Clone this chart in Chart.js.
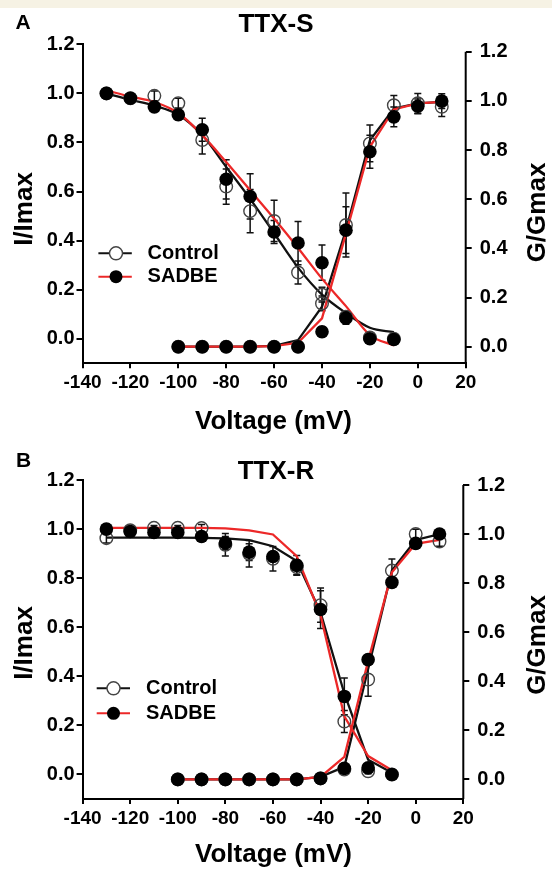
<!DOCTYPE html>
<html>
<head>
<meta charset="utf-8">
<script src="https://cdn.jsdelivr.net/npm/chart.js@4.4.1/dist/chart.umd.min.js"></script>
<style>
  html, body { margin: 0; padding: 0; background: #fff; }
  #band { position: absolute; left: 0; top: 0; width: 552px; height: 8px; background: #f6f2e4; }
  canvas { position: absolute; left: 0; }
  #chartA { top: 0; }
  #chartB { top: 435px; }
</style>
</head>
<body>
<div id="band"></div>
<canvas id="chartA" width="552" height="435"></canvas>
<canvas id="chartB" width="552" height="435"></canvas>
<script>
// voltages (mV)
const xInact = [-130, -120, -110, -100, -90, -80, -70, -60, -50, -40, -30, -20, -10];
const xAct = [-100, -90, -80, -70, -60, -50, -40, -30, -20, -10, 0, 10];
const xTicks = [-140, -120, -100, -80, -60, -40, -20, 0, 20];
const yTicks = [0, 0.2, 0.4, 0.6, 0.8, 1.0, 1.2];

// A: TTX-S
const aInactCtrl = [1.00, 0.98, 0.99, 0.96, 0.81, 0.62, 0.52, 0.48, 0.27, 0.18, 0.09, 0.005, 0.0];
const aInactCtrlErr = [0.01, 0.01, 0.02, 0.02, 0.057, 0.072, 0.088, 0.084, 0.047, 0.03, 0.02, 0.01, 0.01];
const aInactSad = [1.00, 0.98, 0.945, 0.913, 0.852, 0.65, 0.58, 0.435, 0.39, 0.31, 0.084, 0.0, -0.003];
const aInactSadErr = [0.01, 0.01, 0.01, 0.02, 0.047, 0.08, 0.092, 0.047, 0.088, 0.072, 0.025, 0.01, 0.01];
const aInactCtrlFit = [1.00, 0.974, 0.95, 0.913, 0.83, 0.70, 0.57, 0.43, 0.29, 0.18, 0.105, 0.045, 0.027];
const aInactSadFit = [1.012, 0.987, 0.965, 0.92, 0.83, 0.72, 0.605, 0.49, 0.37, 0.245, 0.133, 0.015, -0.027];
const aActCtrl = [0, 0, 0, 0, 0, 0.0, 0.176, 0.495, 0.827, 0.982, 0.99, 0.976];
const aActCtrlErr = [0, 0, 0, 0, 0, 0.01, 0.03, 0.13, 0.075, 0.04, 0.04, 0.04];
const aActSad = [0, 0, 0, 0, 0, 0.0, 0.061, 0.474, 0.793, 0.935, 0.978, 0.999];
const aActSadErr = [0, 0, 0, 0, 0, 0.01, 0.02, 0.095, 0.067, 0.04, 0.03, 0.03];
const aActCtrlFit = [0, 0, 0, 0, 0.003, 0.027, 0.163, 0.474, 0.84, 0.969, 0.99, 0.996];
const aActSadFit = [0, 0, 0, 0, 0.002, 0.016, 0.115, 0.46, 0.813, 0.965, 0.99, 0.996];

// B: TTX-R
const bInactCtrl = [0.963, 0.995, 1.005, 1.005, 1.004, 0.936, 0.899, 0.879, 0.845, 0.69, 0.216, 0.013, 0.0];
const bInactCtrlErr = [0.02, 0.01, 0.01, 0.01, 0.015, 0.046, 0.054, 0.05, 0.03, 0.07, 0.045, 0.01, 0.01];
const bInactSad = [1.0, 0.99, 0.986, 0.986, 0.97, 0.943, 0.906, 0.888, 0.852, 0.672, 0.318, 0.027, 0.0];
const bInactSadErr = [0.02, 0.01, 0.01, 0.01, 0.01, 0.027, 0.034, 0.02, 0.04, 0.077, 0.075, 0.01, 0.01];
const bInactCtrlFit = [0.965, 0.965, 0.965, 0.965, 0.964, 0.962, 0.955, 0.93, 0.87, 0.66, 0.33, 0.06, 0.007];
const bInactSadFit = [1.005, 1.005, 1.005, 1.005, 1.005, 1.003, 0.995, 0.978, 0.89, 0.65, 0.237, 0.075, 0.017];
const bActCtrl = [0, 0, 0, 0, 0, 0, 0.004, 0.04, 0.407, 0.851, 1.0, 0.97];
const bActCtrlErr = [0, 0, 0, 0, 0, 0, 0, 0.01, 0.068, 0.047, 0.02, 0.02];
const bActSad = [0, 0, 0, 0, 0, 0, 0.004, 0.045, 0.488, 0.803, 0.962, 1.0];
const bActSadErr = [0, 0, 0, 0, 0, 0, 0, 0.01, 0.02, 0.02, 0.01, 0.01];
const bActCtrlFit = [0, 0, 0, 0, 0, 0, 0.01, 0.051, 0.45, 0.851, 0.976, 1.0];
const bActSadFit = [0, 0, 0, 0, 0, 0, 0.01, 0.092, 0.482, 0.844, 0.96, 0.976];

const RED = 'rgb(236, 40, 40)';
const BLACK = '#111';
const FONT = '"Liberation Sans", Arial, sans-serif';

const pts = (xs, ys) => xs.map((x, i) => ({ x: x, y: ys[i] }));

// error bars, drawn under the markers
const errorBars = {
  id: 'errorBars',
  beforeDatasetsDraw(chart) {
    const ctx = chart.ctx;
    ctx.save();
    ctx.strokeStyle = '#111';
    ctx.lineWidth = 1.5;
    chart.data.datasets.forEach((ds) => {
      if (!ds.errors) return;
      const xs = chart.scales.x;
      const ys = chart.scales[ds.yAxisID];
      ds.data.forEach((p, i) => {
        const e = ds.errors[i];
        if (!e) return;
        const px = xs.getPixelForValue(p.x);
        const top = ys.getPixelForValue(p.y + e);
        const bot = ys.getPixelForValue(p.y - e);
        ctx.beginPath();
        ctx.moveTo(px, top); ctx.lineTo(px, bot);
        ctx.moveTo(px - 3.5, top); ctx.lineTo(px + 3.5, top);
        ctx.moveTo(px - 3.5, bot); ctx.lineTo(px + 3.5, bot);
        ctx.stroke();
      });
    });
    ctx.restore();
  }
};

// panel letter, titles, axis titles, legend, right axis line
const panelText = {
  id: 'panelText',
  afterDraw(chart, args, o) {
    const ctx = chart.ctx;
    const y2 = chart.scales.y2;
    ctx.save();
    // right axis line from 1.2 down
    ctx.strokeStyle = '#000';
    ctx.lineWidth = 2;
    ctx.beginPath();
    ctx.moveTo(y2.left, y2.getPixelForValue(1.2));
    ctx.lineTo(y2.left, chart.chartArea.bottom);
    ctx.stroke();

    ctx.fillStyle = '#000';
    ctx.textAlign = 'center';
    ctx.textBaseline = 'middle';
    ctx.font = 'bold 21px ' + FONT;
    ctx.fillText(o.letter, o.letterX, o.letterY);
    ctx.font = 'bold 26px ' + FONT;
    ctx.fillText(o.title, o.titleX, o.titleY);
    ctx.fillText('Voltage (mV)', o.xTitleX, o.xTitleY);
    ctx.save();
    ctx.translate(o.yTitleX, o.yTitleY);
    ctx.rotate(-Math.PI / 2);
    ctx.fillText('I/Imax', 0, 0);
    ctx.restore();
    ctx.save();
    ctx.translate(o.y2TitleX, o.y2TitleY);
    ctx.rotate(-Math.PI / 2);
    ctx.fillText('G/Gmax', 0, 0);
    ctx.restore();

    // legend
    const rows = [
      { label: 'Control', line: BLACK },
      { label: 'SADBE', line: RED }
    ];
    rows.forEach((r, i) => {
      const y = o.legY[i];
      ctx.strokeStyle = r.line;
      ctx.lineWidth = 2;
      ctx.beginPath();
      ctx.moveTo(o.legX1, y); ctx.lineTo(o.legX2, y);
      ctx.stroke();
      ctx.beginPath();
      ctx.arc(o.legM, y, 6.5, 0, Math.PI * 2);
      if (i === 0) {
        ctx.fillStyle = '#fff';
        ctx.fill();
        ctx.strokeStyle = '#444';
        ctx.lineWidth = 1.4;
        ctx.stroke();
      } else {
        ctx.fillStyle = '#000';
        ctx.fill();
      }
      ctx.fillStyle = '#000';
      ctx.textAlign = 'left';
      ctx.font = 'bold 20px ' + FONT;
      ctx.fillText(r.label, o.legText, y);
    });
    ctx.restore();
  }
};

function fitLine(xs, ys, color, axis, smooth) {
  return {
    type: 'line', data: pts(xs, ys), yAxisID: axis,
    borderColor: color, borderWidth: 2.3, pointRadius: 0, fill: false,
    cubicInterpolationMode: smooth ? 'monotone' : 'default',
    tension: 0, order: 3
  };
}

function markers(xs, ys, errs, filled, axis) {
  return {
    type: 'scatter', data: pts(xs, ys), yAxisID: axis, errors: errs,
    showLine: false,
    pointRadius: filled ? 6.8 : 6.3,
    pointBackgroundColor: filled ? '#000' : 'rgba(255,255,255,0)',
    pointBorderColor: filled ? '#000' : '#444',
    pointBorderWidth: filled ? 0 : 1.4,
    order: filled ? 1 : 2
  };
}

function makePanel(id, d, box, text) {
  const tickFont = { family: FONT, size: 19, weight: 'bold' };
  new Chart(document.getElementById(id), {
    type: 'scatter',
    data: {
      datasets: [
        markers(xInact, d.inactSad, d.inactSadErr, true, 'y'),
        markers(xAct, d.actSad, d.actSadErr, true, 'y2'),
        markers(xInact, d.inactCtrl, d.inactCtrlErr, false, 'y'),
        markers(xAct, d.actCtrl, d.actCtrlErr, false, 'y2'),
        fitLine(xInact, d.inactSadFit, RED, 'y', box.smooth),
        fitLine(xAct, d.actSadFit, RED, 'y2', false),
        fitLine(xInact, d.inactCtrlFit, BLACK, 'y', box.smooth),
        fitLine(xAct, d.actCtrlFit, BLACK, 'y2', false)
      ]
    },
    options: {
      responsive: false,
      animation: false,
      devicePixelRatio: 1,
      layout: { padding: { top: box.top, left: 0, right: 0, bottom: 0 } },
      plugins: {
        legend: { display: false },
        tooltip: { enabled: false },
        panelText: text
      },
      scales: {
        x: {
          type: 'linear', min: -140, max: 20,
          afterBuildTicks: (s) => { s.ticks = xTicks.map((v) => ({ value: v })); },
          afterFit: (s) => { s.height = box.xHeight; },
          ticks: { font: tickFont, color: '#000', padding: 3, autoSkip: false, maxRotation: 0 },
          grid: { drawOnChartArea: false, drawTicks: true, tickLength: 5, color: '#000', lineWidth: 2 },
          border: { display: true, color: '#000', width: 2 }
        },
        y: {
          position: 'left', min: -0.1, max: 1.2,
          afterBuildTicks: (s) => { s.ticks = yTicks.map((v) => ({ value: v })); },
          afterFit: (s) => { s.width = box.left; },
          ticks: { font: { family: FONT, size: 20, weight: 'bold' }, color: '#000', padding: 2, callback: (v) => v.toFixed(1) },
          grid: { drawOnChartArea: false, drawTicks: true, tickLength: 6, color: '#000', lineWidth: 2 },
          border: { display: true, color: '#000', width: 2 }
        },
        y2: {
          position: 'right', min: box.y2min, max: box.y2max,
          afterBuildTicks: (s) => { s.ticks = yTicks.map((v) => ({ value: v })); },
          afterFit: (s) => { s.width = box.right; },
          ticks: { font: { family: FONT, size: 20, weight: 'bold' }, color: '#000', padding: 8, callback: (v) => v.toFixed(1) },
          grid: { drawOnChartArea: false, drawTicks: true, tickLength: 6, color: '#000', lineWidth: 2 },
          border: { display: false }
        }
      }
    },
    plugins: [errorBars, panelText]
  });
}

makePanel('chartA', {
  inactCtrl: aInactCtrl, inactCtrlErr: aInactCtrlErr, inactSad: aInactSad, inactSadErr: aInactSadErr,
  inactCtrlFit: aInactCtrlFit, inactSadFit: aInactSadFit,
  actCtrl: aActCtrl, actCtrlErr: aActCtrlErr, actSad: aActSad, actSadErr: aActSadErr,
  actCtrlFit: aActCtrlFit, actSadFit: aActSadFit
}, { top: 44.3, left: 82.5, right: 86.3, xHeight: 71.7, y2min: -0.0675, y2max: 1.230, smooth: true }, {
  letter: 'A', letterX: 23, letterY: 23, title: 'TTX-S', titleX: 276, titleY: 25,
  xTitleX: 273.5, xTitleY: 421.7, yTitleX: 25, yTitleY: 209, y2TitleX: 537.5, y2TitleY: 212.5,
  legX1: 98.4, legX2: 131.8, legM: 116, legY: [253.3, 276.7], legText: 147.6
});

makePanel('chartB', {
  inactCtrl: bInactCtrl, inactCtrlErr: bInactCtrlErr, inactSad: bInactSad, inactSadErr: bInactSadErr,
  inactCtrlFit: bInactCtrlFit, inactSadFit: bInactSadFit,
  actCtrl: bActCtrl, actCtrlErr: bActCtrlErr, actSad: bActSad, actSadErr: bActSadErr,
  actCtrlFit: bActCtrlFit, actSadFit: bActSadFit
}, { top: 45, left: 82.6, right: 88.7, xHeight: 71, y2min: -0.080, y2max: 1.2204, smooth: false }, {
  letter: 'B', letterX: 23.7, letterY: 26.7, title: 'TTX-R', titleX: 276, titleY: 36.7,
  xTitleX: 273.5, xTitleY: 420, yTitleX: 25, yTitleY: 208, y2TitleX: 537.5, y2TitleY: 210,
  legX1: 96.7, legX2: 130, legM: 113.5, legY: [253.3, 278.3], legText: 146
});
</script>
</body>
</html>
